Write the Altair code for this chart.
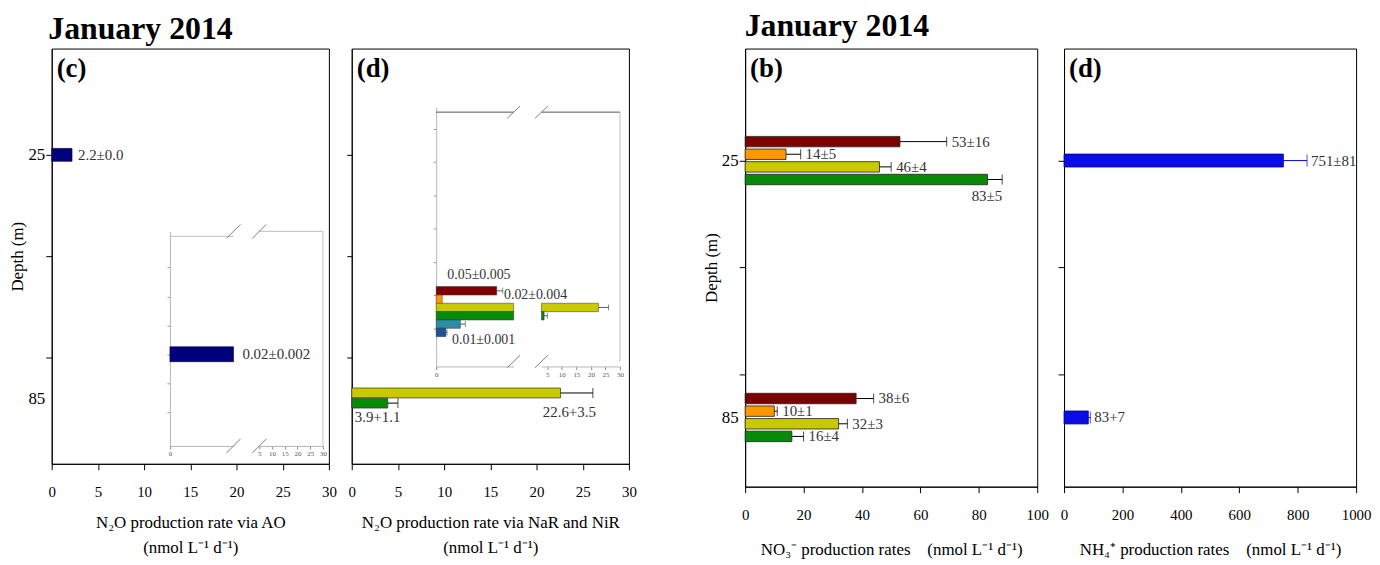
import altair as alt
import pandas as pd

FONT = "Liberation Serif"

# ---------------- data ----------------
# (c) N2O production via AO
c_depth = [25]
c_value = [2.2]
c_label = ["2.2±0.0"]
# (c) inset (85 m)
ci_depth = [85]
ci_value = [0.02]
ci_label = ["0.02±0.002"]

# (d) N2O production via NaR and NiR
d_series = ["yellow", "green"]
d_depth = [85, 85]
d_value = [22.6, 3.9]
d_err = [3.5, 1.1]
d_label = ["22.6+3.5", "3.9+1.1"]
# (d) inset (85 m)
di_series = ["darkred", "orange", "yellow", "green", "teal", "blue"]
di_depth = [85, 85, 85, 85, 85, 85]
di_value = [0.05, 0.005, 22.6, 3.9, 0.02, 0.008]
di_err = [0.005, 0.0, 3.5, 1.1, 0.004, 0.001]
di_label = ["0.05±0.005", "", "", "", "0.02±0.004", "0.01±0.001"]

# (b) NO3- production rates
b_series = ["darkred", "orange", "yellow", "green", "darkred", "orange", "yellow", "green"]
b_depth = [25, 25, 25, 25, 85, 85, 85, 85]
b_value = [53, 14, 46, 83, 38, 10, 32, 16]
b_err = [16, 5, 4, 5, 6, 1, 3, 4]
b_label = ["53±16", "14±5", "46±4", "83±5", "38±6", "10±1", "32±3", "16±4"]

# (d) NH4+ production rates
n_depth = [25, 85]
n_value = [751, 83]
n_err = [81, 7]
n_label = ["751±81", "83+7"]

x_ticks_n2o = [0, 5, 10, 15, 20, 25, 30]
x_ticks_no3 = [0, 20, 40, 60, 80, 100]
x_ticks_nh4 = [0, 200, 400, 600, 800, 1000]
inset_right_ticks = [5, 10, 15, 20, 25, 30]
depth_ticks = [25, 50, 75, 85]
ci_y_ticks = [55, 65, 75, 85, 95, 105]
di_y_ticks = [30, 40, 50, 60, 70, 80, 90]

SERIES_ORDER = ["darkred", "orange", "yellow", "green", "teal", "blue"]
SERIES_COLORS = ["#7d0000", "#ff9800", "#c9c900", "#078a07", "#2a8ea4", "#1b5299"]
CSCALE = alt.Scale(domain=SERIES_ORDER, range=SERIES_COLORS)


def col_enc():
    return alt.Color("series:N", scale=CSCALE, legend=None)


Y_MAIN = alt.Scale(domain=[0, 100], reverse=True, nice=False, zero=False)


def y_axis(labels, title=None, tick=6):
    kw = dict(values=depth_ticks, tickSize=tick, grid=False,
              tickOpacity={"condition": {"test": "datum.value == 85", "value": 0}, "value": 1})
    if labels:
        kw.update(labelExpr="(datum.value == 25 || datum.value == 85) ? datum.label : ''",
                  labelFontSize=17, labelPadding=1)
    else:
        kw.update(labels=False)
    kw.update(title=title, titleFontSize=17, titlePadding=1)
    return alt.Axis(**kw)


def x_axis(values, title, pad):
    return alt.Axis(values=values, format="d", tickSize=6, labelFontSize=15, labelPadding=15,
                    labelFlush=False, labelOverlap=False, title=title, titleFontSize=17,
                    titlePadding=pad, titleLineHeight=25, grid=False)


def inset_x_axis(values, offset):
    return alt.Axis(orient="bottom", offset=offset, values=values, format="d", tickSize=3,
                    labelFontSize=7, labelPadding=1, labelColor="#555", tickColor="#888",
                    domainColor="#b5b5b5", title=None, grid=False, labelFlush=False)


def inset_y_axis(values, offset):
    return alt.Axis(orient="left", offset=offset, values=values, labels=False, tickSize=3,
                    tickColor="#999", domainColor="#b5b5b5", title=None, grid=False)


def letter(t):
    return alt.Chart(pd.DataFrame({"t": [t]})).mark_text(
        align="left", baseline="top", fontSize=27, fontWeight="bold", font=FONT, color="black"
    ).encode(x=alt.value(5), y=alt.value(8), text="t:N")


def lin(dom, rng, px):
    return dom[0] + (px - rng[0]) * (dom[1] - dom[0]) / (rng[1] - rng[0])


def inset_frame(xl, xr, yy, h, top_col, side_col):
    (xl_dom, xl_rng), (xr_dom, xr_rng), (y_dom, y_rng) = xl, xr, yy
    left_rows = [dict(x=xl_dom[0], x2=xl_dom[1], y=y_dom[0], y2=y_dom[0], col=top_col)]
    right_rows = [dict(x=xr_dom[0], x2=xr_dom[1], y=y_dom[0], y2=y_dom[0], col=top_col),
                  dict(x=xr_dom[1], x2=xr_dom[1], y=y_dom[0], y2=y_dom[1], col=side_col)]
    for xpx in (xl_rng[1], xr_rng[0]):
        for ypx in y_rng:
            right_rows.append(dict(x=lin(xr_dom, xr_rng, xpx - h), x2=lin(xr_dom, xr_rng, xpx + h),
                                   y=lin(y_dom, y_rng, ypx + h), y2=lin(y_dom, y_rng, ypx - h),
                                   col="#808080"))
    return pd.DataFrame(left_rows), pd.DataFrame(right_rows)


def frame_layer(df, xs, ys, xaxis, yaxis):
    return alt.Chart(df).mark_rule(strokeWidth=1).encode(
        x=alt.X("x:Q", scale=xs, axis=xaxis), x2="x2:Q",
        y=alt.Y("y:Q", scale=ys, axis=yaxis), y2="y2:Q",
        color=alt.Color("col:N", scale=None))


def scale(spec, clamp=False):
    if clamp:
        return alt.Scale(domain=spec[0], range=spec[1], nice=False, zero=False, clamp=True)
    return alt.Scale(domain=spec[0], range=spec[1], nice=False, zero=False)


# ================= panel (c) =================
W_L, H_L = 279, 418
XC = alt.Scale(domain=[0, 30], nice=False, zero=False)
XA_C = x_axis(x_ticks_n2o, ["N₂O production rate via AO", "(nmol L⁻¹ d⁻¹)"], 15)
YA_C = y_axis(True, "Depth (m)")
c_df = pd.DataFrame({"depth": c_depth, "value": c_value, "label": c_label})
c_base = alt.Chart(c_df)
c_bar = c_base.mark_bar(orient="horizontal", size=13, color="#00007c", stroke="#000040",
                        strokeWidth=0.6).encode(
    x=alt.X("value:Q", scale=XC, axis=XA_C), x2=alt.datum(0),
    y=alt.Y("depth:Q", scale=Y_MAIN, axis=YA_C))
c_txt = c_base.mark_text(align="left", dx=6, fontSize=15, font=FONT, color="#333").encode(
    x=alt.X("value:Q", scale=XC, axis=XA_C), y=alt.Y("depth:Q", scale=Y_MAIN, axis=YA_C),
    text="label:N")
c_main = alt.layer(c_bar, c_txt, letter("(c)"))

CI_XL = ([0, 0.02], [119, 183])
CI_XR = ([5, 30], [209, 273])
CI_Y = ([44.2, 115], [184, 400])
ci_xl, ci_xr, ci_y = scale(CI_XL), scale(CI_XR), scale(CI_Y)
XA_CIL = inset_x_axis([0], -(H_L - CI_Y[1][1]))
XA_CIR = inset_x_axis(inset_right_ticks, -(H_L - CI_Y[1][1]))
YA_CI = inset_y_axis(ci_y_ticks, -CI_XL[1][0])
ci_df = pd.DataFrame({"depth": ci_depth, "value": ci_value, "label": ci_label})
ci_base = alt.Chart(ci_df)
ci_bar = ci_base.mark_bar(orient="horizontal", size=15, color="#00007c", stroke="#000040",
                          strokeWidth=0.6).encode(
    x=alt.X("value:Q", scale=ci_xl, axis=XA_CIL), x2=alt.datum(0),
    y=alt.Y("depth:Q", scale=ci_y, axis=YA_CI))
ci_txt = ci_base.mark_text(align="left", dx=9, fontSize=15, font=FONT, color="#333").encode(
    x=alt.X("value:Q", scale=ci_xl, axis=XA_CIL), y=alt.Y("depth:Q", scale=ci_y, axis=YA_CI),
    text="label:N")
ci_fl, ci_fr = inset_frame(CI_XL, CI_XR, CI_Y, 7, "#bdbdbd", "#bdbdbd")
ci_left = alt.layer(ci_bar, ci_txt, frame_layer(ci_fl, ci_xl, ci_y, XA_CIL, YA_CI))
ci_right = frame_layer(ci_fr, ci_xr, ci_y, XA_CIR, None)

panel_c = alt.layer(c_main, ci_left, ci_right).resolve_scale(
    x="independent", y="independent").properties(width=W_L, height=H_L)

# ================= panel (d) left =================
XD = alt.Scale(domain=[0, 30], nice=False, zero=False)
XA_D = x_axis(x_ticks_n2o, ["N₂O production rate via NaR and NiR", "(nmol L⁻¹ d⁻¹)"], 15)
YA_D = y_axis(False, None, tick=5)
d_df = pd.DataFrame({"series": d_series, "depth": d_depth, "value": d_value,
                     "err": d_err, "label": d_label})
d_df["end"] = d_df["value"] + d_df["err"]
d_df["y"] = d_df["depth"] + (pd.Series(range(len(d_df))) - 0.5) * 2.5
d_df["zero"] = 0.0
d_base = alt.Chart(d_df)
dX = lambda f: alt.X(f, type="quantitative", scale=XD, axis=XA_D)
dY = alt.Y("y:Q", scale=Y_MAIN, axis=YA_D)
d_bar = d_base.mark_bar(orient="horizontal", size=10, stroke="#333", strokeWidth=0.7).encode(
    x=dX("value"), x2=alt.datum(0), y=dY, color=col_enc())
d_rule = d_base.mark_rule(color="black", strokeWidth=1).encode(x=dX("value"), x2="end:Q", y=dY)
d_cap = d_base.mark_tick(orient="vertical", size=10, thickness=1, color="black").encode(
    x=dX("end"), y=dY)
d_t1 = d_base.transform_filter("datum.series == 'yellow'").mark_text(
    align="right", dx=3, dy=19, fontSize=15, font=FONT, color="#333").encode(
    x=dX("end"), y=dY, text="label:N")
d_t2 = d_base.transform_filter("datum.series == 'green'").mark_text(
    align="left", dx=3, dy=14, fontSize=15, font=FONT, color="#333").encode(
    x=dX("zero"), y=dY, text="label:N")
d_main = alt.layer(d_bar, d_rule, d_cap, d_t1, d_t2, letter("(d)"))

DI_XL = ([0, 0.064], [85, 163])
DI_XR = ([3, 30], [191, 270])
DI_Y = ([25, 100], [59, 320])
di_xl, di_xr, di_y = scale(DI_XL, clamp=True), scale(DI_XR), scale(DI_Y)
XA_DIL = inset_x_axis([0], -(H_L - DI_Y[1][1]))
XA_DIR = inset_x_axis(inset_right_ticks, -(H_L - DI_Y[1][1]))
YA_DI = inset_y_axis(di_y_ticks, -DI_XL[1][0])
di_df = pd.DataFrame({"series": di_series, "depth": di_depth, "value": di_value,
                      "err": di_err, "label": di_label})
di_df["end"] = di_df["value"] + di_df["err"]
di_df["y"] = di_df["depth"] + (pd.Series(range(len(di_df))) - 2.5) * 2.5
di_base = alt.Chart(di_df)
lX = lambda f: alt.X(f, type="quantitative", scale=di_xl, axis=XA_DIL)
lY = alt.Y("y:Q", scale=di_y, axis=YA_DI)
di_bar = di_base.mark_bar(orient="horizontal", size=8.5, stroke="#333", strokeWidth=0.5).encode(
    x=lX("value"), x2=alt.datum(0), y=lY, color=col_enc())
di_small = di_base.transform_filter("datum.err > 0 && datum.end < 0.064")
di_rule = di_small.mark_rule(color="#333", strokeWidth=0.8).encode(x=lX("value"), x2="end:Q", y=lY)
di_cap = di_small.mark_tick(orient="vertical", size=6, thickness=0.8, color="#333").encode(
    x=lX("end"), y=lY)


def di_text(series, align, dx, dy):
    return di_base.transform_filter(f"datum.series == '{series}'").mark_text(
        align=align, dx=dx, dy=dy, fontSize=14, font=FONT, color="#333").encode(
        x=lX("end"), y=lY, text="label:N")


di_fl, di_fr = inset_frame(DI_XL, DI_XR, DI_Y, 6.5, "#555555", "#bdbdbd")
di_left = alt.layer(di_bar, di_rule, di_cap,
                    di_text("darkred", "center", -24, -16),
                    di_text("teal", "left", 39, -29),
                    di_text("blue", "left", 5, 8),
                    frame_layer(di_fl, di_xl, di_y, XA_DIL, YA_DI))
rX = lambda f: alt.X(f, type="quantitative", scale=di_xr, axis=XA_DIR)
rY = alt.Y("y:Q", scale=di_y, axis=None)
di_big = di_base.transform_filter("datum.value > 3")
dr_bar = di_big.mark_bar(orient="horizontal", size=8.5, stroke="#333", strokeWidth=0.5).encode(
    x=rX("value"), x2=alt.datum(3), y=rY, color=col_enc())
dr_rule = di_big.mark_rule(color="#333", strokeWidth=0.8).encode(x=rX("value"), x2="end:Q", y=rY)
dr_cap = di_big.mark_tick(orient="vertical", size=6, thickness=0.8, color="#333").encode(
    x=rX("end"), y=rY)
di_right = alt.layer(dr_bar, dr_rule, dr_cap, frame_layer(di_fr, di_xr, di_y, XA_DIR, None))

panel_d = alt.layer(d_main, di_left, di_right).resolve_scale(
    x="independent", y="independent").properties(width=W_L, height=H_L)

# ================= panel (b) NO3- =================
W_R, H_R = 294, 441
XB = alt.Scale(domain=[0, 100], nice=False, zero=False)
XA_B = x_axis(x_ticks_no3, "NO₃⁻ production rates\u2003(nmol L⁻¹ d⁻¹)", 19)
YA_B = y_axis(True, "Depth (m)")
b_df = pd.DataFrame({"series": b_series, "depth": b_depth, "value": b_value,
                     "err": b_err, "label": b_label})
b_df["end"] = b_df["value"] + b_df["err"]
b_order = {s: i for i, s in enumerate(SERIES_ORDER[:4])}
b_df["y"] = b_df["depth"] + (b_df["series"].map(b_order) - 1.5) * 2.95
b_base = alt.Chart(b_df)
bX = lambda f: alt.X(f, type="quantitative", scale=XB, axis=XA_B)
bY = alt.Y("y:Q", scale=Y_MAIN, axis=YA_B)
b_bar = b_base.mark_bar(orient="horizontal", size=10.5, stroke="#222", strokeWidth=0.8).encode(
    x=bX("value"), x2=alt.datum(0), y=bY, color=col_enc())
b_rule = b_base.mark_rule(color="black", strokeWidth=1).encode(x=bX("value"), x2="end:Q", y=bY)
b_cap = b_base.mark_tick(orient="vertical", size=10, thickness=1, color="black").encode(
    x=bX("end"), y=bY)
b_t1 = b_base.transform_filter("datum.end <= 80").mark_text(
    align="left", dx=5, fontSize=15, font=FONT, color="#333").encode(x=bX("end"), y=bY, text="label:N")
b_t2 = b_base.transform_filter("datum.end > 80").mark_text(
    align="right", dx=0, dy=17, fontSize=15, font=FONT, color="#333").encode(
    x=bX("end"), y=bY, text="label:N")
panel_b = alt.layer(b_bar, b_rule, b_cap, b_t1, b_t2, letter("(b)")).properties(
    width=W_R, height=H_R)

# ================= panel (d) NH4+ =================
XN = alt.Scale(domain=[0, 1000], nice=False, zero=False)
XA_N = x_axis(x_ticks_nh4, "NH₄⁺ production rates\u2003(nmol L⁻¹ d⁻¹)", 19)
YA_N = y_axis(False, None)
n_df = pd.DataFrame({"depth": n_depth, "value": n_value, "err": n_err, "label": n_label})
n_df["end"] = n_df["value"] + n_df["err"]
n_base = alt.Chart(n_df)
nX = lambda f: alt.X(f, type="quantitative", scale=XN, axis=XA_N)
nY = alt.Y("depth:Q", scale=Y_MAIN, axis=YA_N)
n_bar = n_base.mark_bar(orient="horizontal", size=13, color="#0c0ce8", stroke="#00007a",
                        strokeWidth=0.8).encode(x=nX("value"), x2=alt.datum(0), y=nY)
n_rule = n_base.mark_rule(color="#0000ff", strokeWidth=1).encode(x=nX("value"), x2="end:Q", y=nY)
n_cap = n_base.mark_tick(orient="vertical", size=12, thickness=1, color="#0000ff").encode(
    x=nX("end"), y=nY)
n_txt = n_base.mark_text(align="left", dx=4, fontSize=15, font=FONT, color="#333").encode(
    x=nX("end"), y=nY, text="label:N")
panel_n = alt.layer(n_bar, n_rule, n_cap, n_txt, letter("(d)")).properties(width=W_R, height=H_R)

# ================= layout =================
left = alt.hconcat(panel_c, panel_d, spacing=9).properties(
    title=alt.TitleParams("January 2014", anchor="start", fontSize=32, fontWeight="bold",
                          font=FONT, color="black", dx=40, offset=2))
right = alt.hconcat(panel_b, panel_n, spacing=8).properties(
    title=alt.TitleParams("January 2014", anchor="start", fontSize=32, fontWeight="bold",
                          font=FONT, color="black", dx=43, offset=5))

chart = alt.hconcat(left, right, spacing=65).properties(
    padding={"left": 0, "top": 0, "right": 0, "bottom": 0}
).configure_view(
    stroke="black", strokeWidth=1
).configure_axis(
    labelFont=FONT, titleFont=FONT, labelColor="black", titleColor="black",
    titleFontWeight="normal", domainColor="black", tickColor="black", grid=False
).configure_title(font=FONT)

chart.save("out.html", embed_options={"renderer": "svg", "actions": False})
